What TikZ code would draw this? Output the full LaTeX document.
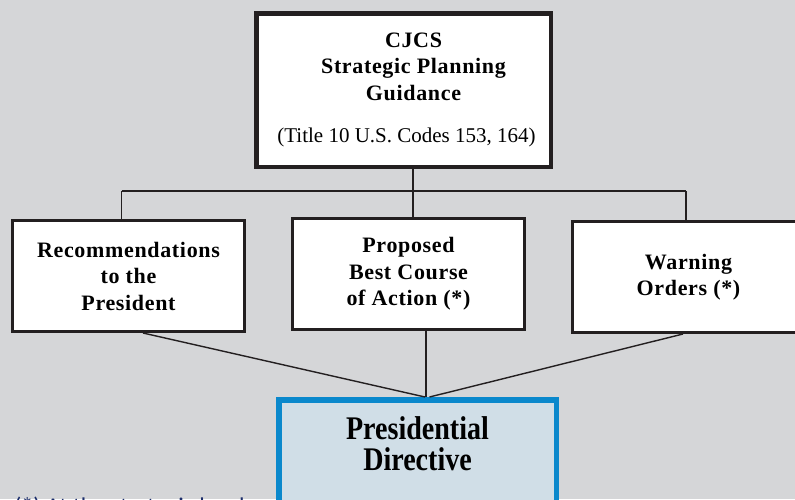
\documentclass[tikz,border=0pt]{standalone}
\usepackage{fontspec}
\setmainfont{Liberation Serif}
\newfontfamily\headfont[LetterSpace=3]{Liberation Serif}
\newfontfamily\condfont[FakeStretch=0.85]{Liberation Serif}
\newfontfamily\notefont{Carlito}
\usetikzlibrary{positioning}

\definecolor{pagebg}{HTML}{D5D6D8}
\definecolor{boxline}{HTML}{231F20}
\definecolor{dirline}{HTML}{0A88CC}
\definecolor{dirfill}{HTML}{D0DEE7}
\definecolor{notecol}{HTML}{1B2D6B}

\begin{document}
\begin{tikzpicture}[x=1pt,y=-1pt,
  topbox/.style={draw=boxline, fill=white, line width=4.5pt, minimum width=294.5pt,
    minimum height=153.5pt, inner sep=0pt, align=center,
    font=\headfont\fontsize{22}{26.5}\selectfont\bfseries},
  midbox/.style={draw=boxline, fill=white, line width=3.4pt, minimum width=231.6pt,
    minimum height=110.6pt, inner sep=0pt, align=center,
    font=\headfont\fontsize{22}{26.5}\selectfont\bfseries},
  dirbox/.style={draw=dirline, fill=dirfill, line width=5.5pt, minimum width=277.5pt,
    minimum height=170pt, inner sep=0pt},
  link/.style={draw=boxline, line width=1.4pt},
]
% page
\fill[pagebg] (0,0) rectangle (795,499);
\useasboundingbox (0,0) rectangle (795,499);

% top guidance box
\node[topbox] (top) at (403.5,90) {\hspace*{20pt}CJCS\\\hspace*{20pt}Strategic Planning\\
  \hspace*{20pt}Guidance\\[16pt]
  {\normalfont\fontsize{21}{26.5}\selectfont\hspace*{6pt}(Title 10 U.S. Codes 153, 164)}};

% three products
\node[midbox] (rec)  at (128.5,276) {Recommendations\\to the\\President};
\node[midbox] (prop) at (408.5,274) {Proposed\\Best Course\\of Action (*)};
\node[midbox] (warn) at (688.5,277) {Warning\\Orders (*)};

% presidential directive
\node[dirbox, anchor=north] (pres) at (417.5,397) {};
\node[font=\condfont\fontsize{33}{31}\selectfont\bfseries, align=center, anchor=north,
  inner sep=0pt] (prestext) at ([yshift=-19pt]pres.north) {Presidential\\Directive};

% distribution bus
\coordinate (busL) at (121.5,191);
\coordinate (busM) at (413,191);
\coordinate (busR) at (686,191);
\draw[link] (top.south -| busM) -- (busM);
\draw[link] (busL) -- (busR);
\draw[link] (busL) -- (busL |- rec.north);
\draw[link] (busM) -- (busM |- prop.north);
\draw[link] (busR) -- (busR |- warn.north);

% lines into the directive
\draw[link] ([xshift=14.5pt]rec.south) -- ([xshift=7.5pt]pres.north);
\draw[link] ([xshift=17.5pt]prop.south) -- ([xshift=8.5pt]pres.north);
\draw[link] ([xshift=-5.5pt]warn.south) -- ([xshift=12pt]pres.north);

% footnote
\node[anchor=base west, inner sep=0pt, text=notecol,
  font=\notefont\fontsize{24}{28}\selectfont] (note) at (14,514) {(*) At the strategic level};
\end{tikzpicture}
\end{document}
